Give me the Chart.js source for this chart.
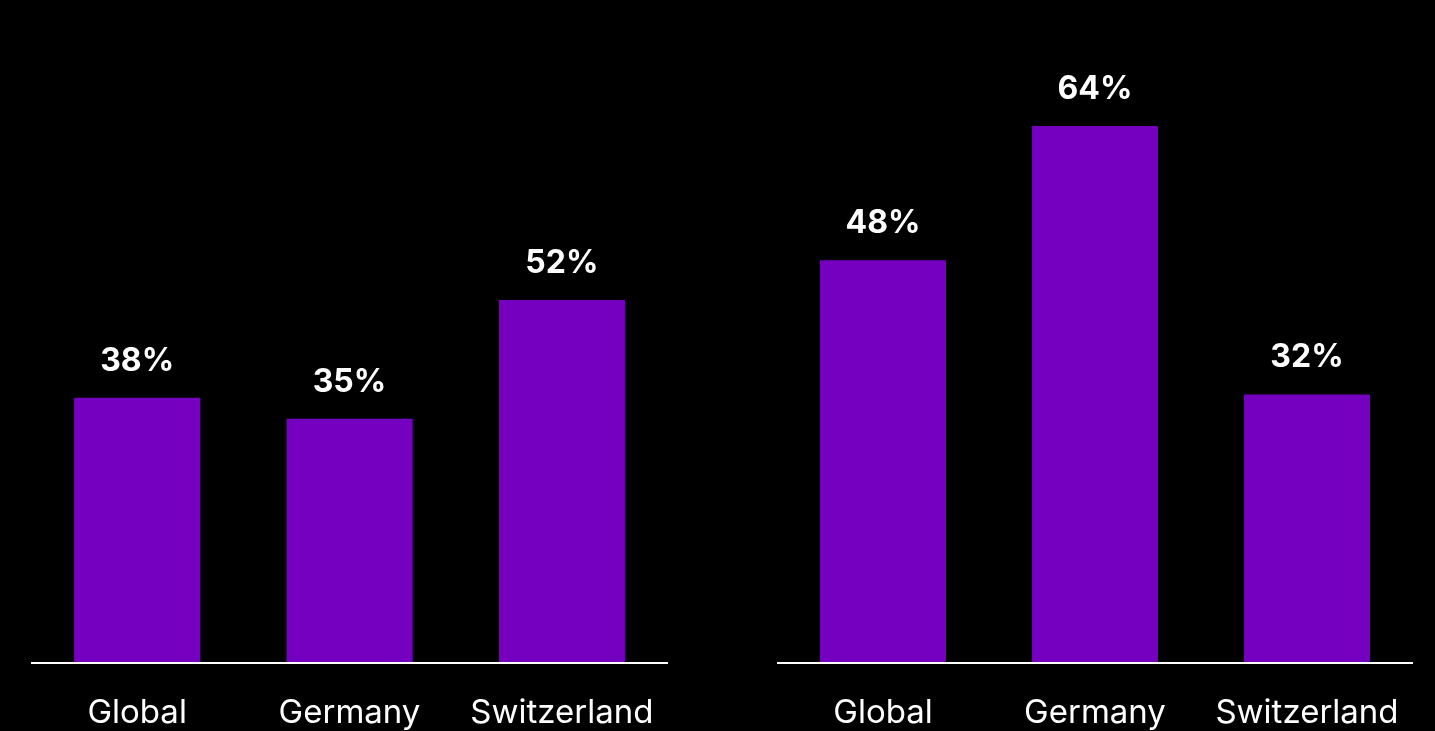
<!DOCTYPE html>
<html>
<head>
<meta charset="utf-8">
<script src="https://cdn.jsdelivr.net/npm/chart.js@4/dist/chart.umd.min.js"></script>
<style>
    html, body {
        margin: 0;
        padding: 0;
        background: #000;
        width: 1435px;
        height: 731px;
        overflow: hidden;
    }
    .painel {
        position: absolute;
        top: 0;
    }
</style>
</head>
<body>
<div class="painel" style="left:31px"><canvas id="graficoEsq" width="637" height="731"></canvas></div>
<div class="painel" style="left:777px"><canvas id="graficoDir" width="636" height="731"></canvas></div>
<script>
const categorias = ['Global', 'Germany', 'Switzerland'];
const valoresEsq = [38, 35, 52];
const valoresDir = [48, 64, 32];
const maxEsq = 95;
const maxDir = 79;

const corBarra = '#7500c0';
const fonte = 'Inter, "Open Sans", sans-serif';

// escreve o valor em % acima de cada barra
const rotulosPlugin = {
    id: 'rotulos',
    afterDatasetsDraw(chart) {
        const ctx = chart.ctx;
        const meta = chart.getDatasetMeta(0);
        const dados = chart.data.datasets[0].data;
        ctx.save();
        ctx.fillStyle = '#fff';
        ctx.font = `bold 32px ${fonte}`;
        ctx.textAlign = 'center';
        ctx.textBaseline = 'alphabetic';
        meta.data.forEach((barra, i) => {
            ctx.fillText(`${dados[i]}%`, barra.x, barra.y - 27);
        });
        ctx.restore();
    }
};

function criarGrafico(id, valores, maximo) {
    const ctx = document.getElementById(id).getContext('2d');
    return new Chart(ctx, {
        type: 'bar',
        data: {
            labels: categorias,
            datasets: [{
                data: valores,
                backgroundColor: corBarra,
                borderWidth: 0,
                categoryPercentage: 1,
                barPercentage: 0.594
            }]
        },
        options: {
            responsive: false,
            animation: false,
            layout: { padding: 0 },
            plugins: {
                legend: { display: false },
                tooltip: { enabled: false }
            },
            scales: {
                x: {
                    grid: { display: false, drawTicks: false },
                    border: { display: true, color: '#fff', width: 2, z: 1 },
                    ticks: {
                        color: '#fff',
                        padding: 30,
                        font: { family: fonte, size: 33, weight: 'normal' }
                    },
                    // altura fixa do eixo e sem folga lateral para os rótulos
                    afterFit(escala) {
                        escala.height = 68;
                        escala.paddingLeft = 0;
                        escala.paddingRight = 0;
                    }
                },
                y: {
                    display: false,
                    min: 0,
                    max: maximo
                }
            }
        },
        plugins: [rotulosPlugin]
    });
}

criarGrafico('graficoEsq', valoresEsq, maxEsq);
criarGrafico('graficoDir', valoresDir, maxDir);
</script>
</body>
</html>
